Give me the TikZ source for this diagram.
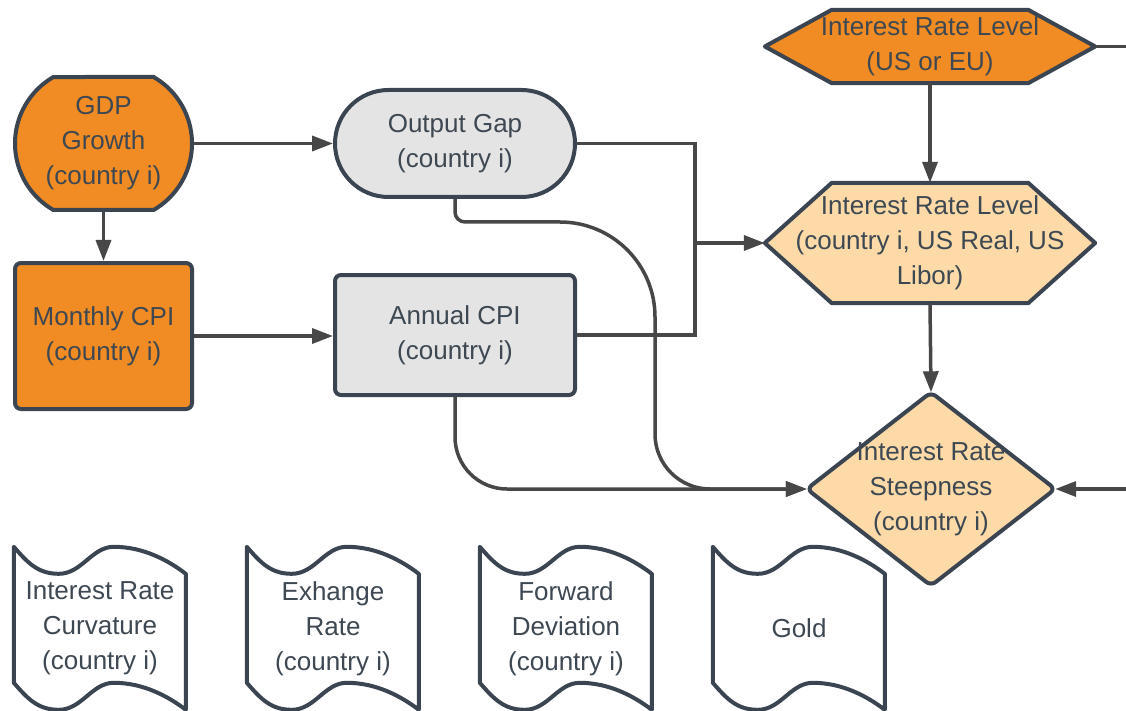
\documentclass[tikz,border=0pt]{standalone}
\usepackage{fontspec}
\setmainfont{Liberation Sans}
\usetikzlibrary{arrows.meta,shapes.misc,backgrounds}
\definecolor{orangefill}{HTML}{F08C23}
\definecolor{peachfill}{HTML}{FDDAA8}
\definecolor{grayfill}{HTML}{E4E4E4}
\definecolor{rim}{HTML}{3B4551}
\definecolor{wire}{HTML}{474747}
\definecolor{ink}{HTML}{3E4852}
\begin{document}
\begin{tikzpicture}[x=1pt, y=-1pt,
  font=\fontsize{26}{35}\selectfont,
  box/.style={draw=rim, line width=4pt, text=ink, align=center, inner sep=0pt},
  lbl/.style={text=ink, align=center, inner sep=0pt},
  link/.style={draw=wire, line width=3.5pt},
  arr/.style={link, -{Triangle[length=21pt,width=15pt]}},
  shapeline/.style={draw=rim, line width=4pt, line join=round}]
\useasboundingbox (0,0) rectangle (1126,711);
% left column
\node[box, fill=orangefill, rounded rectangle, rounded rectangle arc length=120, minimum width=177pt, minimum height=133pt] (gdp) at (103.5,143.5) {GDP\\Growth\\(country i)};
\node[box, fill=orangefill, rounded corners=6pt, minimum width=177pt, minimum height=146pt] (mcpi) at (103.5,336) {Monthly CPI\\(country i)};
% middle column
\node[box, fill=grayfill, rounded rectangle, minimum width=240pt, minimum height=107pt] (outgap) at (455,143.5) {Output Gap\\(country i)};
\node[box, fill=grayfill, rounded corners=6pt, minimum width=240pt, minimum height=120pt] (acpi) at (455,335) {Annual CPI\\(country i)};
% right column
\node[lbl, minimum width=330pt, minimum height=73pt] (hexus) at (930,46.5) {Interest Rate Level\\(US or EU)};
\node[lbl, minimum width=330pt, minimum height=120pt] (hexci) at (930,243) {Interest Rate Level\\(country i, US Real, US\\Libor)};
\node[lbl, minimum width=248pt, minimum height=193pt] (steep) at (931,489) {Interest Rate\\Steepness\\(country i)};
% bottom row
\node[lbl, minimum width=172pt, minimum height=163pt] (curv) at (100,628.5) {Interest Rate\\Curvature\\(country i)};
\node[lbl, minimum width=172pt, minimum height=163pt] (exch) at (333,628.5) {Exhange\\Rate\\(country i)};
\node[lbl, minimum width=172pt, minimum height=163pt] (fwd) at (566,628.5) {Forward\\Deviation\\(country i)};
\node[lbl, minimum width=172pt, minimum height=163pt] (gold) at (799,628.5) {Gold};
\begin{scope}[on background layer]
\draw[shapeline, fill=orangefill] (hexus.west) -- ([xshift=67pt]hexus.north west) -- ([xshift=-67pt]hexus.north east) -- (hexus.east) -- ([xshift=-67pt]hexus.south east) -- ([xshift=67pt]hexus.south west) -- cycle;
\draw[shapeline, fill=peachfill] (hexci.west) -- ([xshift=67pt]hexci.north west) -- ([xshift=-67pt]hexci.north east) -- (hexci.east) -- ([xshift=-67pt]hexci.south east) -- ([xshift=67pt]hexci.south west) -- cycle;
\draw[shapeline, fill=peachfill, rounded corners=6pt] (steep.north) -- (steep.east) -- (steep.south) -- (steep.west) -- cycle;
\foreach \t in {curv,exch,fwd,gold}{
  \draw[shapeline, fill=white, shift={(\t.north west)}] (0,0) .. controls (14,16) and (24,27) .. (45,27) .. controls (68,27) and (78,0) .. (100,0) .. controls (130,0) and (155,14) .. (172,27) -- (172,163) .. controls (155,150) and (130,136) .. (100,136) .. controls (78,136) and (68,163) .. (45,163) .. controls (24,163) and (14,152) .. (0,136) -- cycle;
}
\end{scope}
% connectors
\coordinate (merge) at (695,243);
\coordinate (gapturn) at (655,222);
\coordinate (gapdown) at (655,489);
\coordinate (rimtop) at (1126,46.5);
\coordinate (rimside) at (1126,489);
\draw[arr] (gdp.east) -- (outgap.west);
\draw[arr] (gdp.south) -- (mcpi.north);
\draw[arr] (mcpi.east) -- (mcpi.east -| acpi.west);
\draw[link] (outgap.east) -| (merge);
\draw[link] (acpi.east) -| (merge);
\draw[arr] (merge) -- (hexci.west);
\draw[arr] (hexus.south) -- (hexci.north);
\draw[arr] (hexci.south) -- (steep.north);
\draw[arr] (outgap.south) [rounded corners=10pt] -- (outgap.south |- gapturn) [rounded corners=95pt] -- (gapturn) [rounded corners=55pt] -- (gapdown) -- (steep.west);
\draw[arr, rounded corners=52pt] (acpi.south) |- (steep.west);
\draw[link] (hexus.east) -- (rimtop);
\draw[arr] (rimside) -- (steep.east);
\end{tikzpicture}
\end{document}
